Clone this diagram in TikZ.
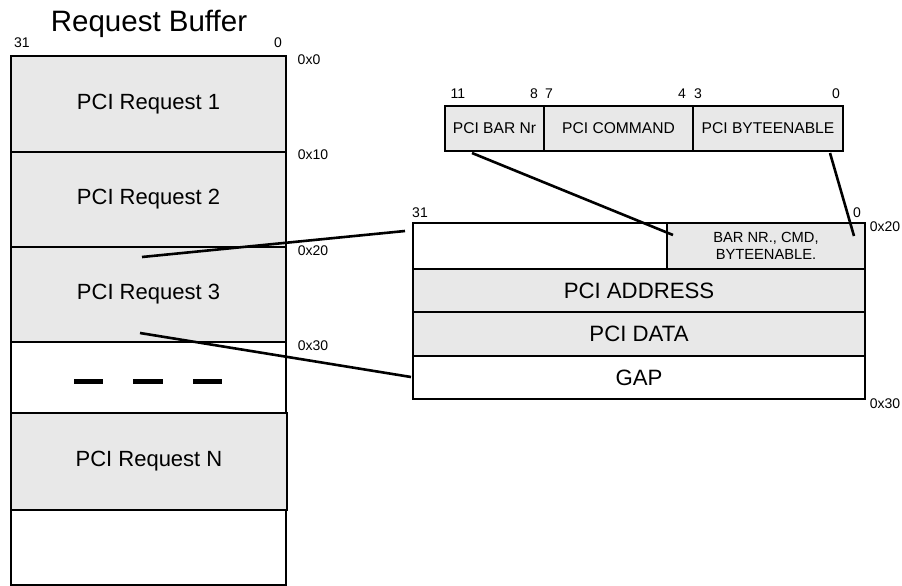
\documentclass[tikz,border=0pt]{standalone}
\usepackage{fontspec}
\setmainfont{Liberation Sans}
\usetikzlibrary{calc}
\definecolor{cellgray}{HTML}{E8E8E8}
\tikzset{
  cell/.style={draw=black, line width=2.4pt, inner sep=0pt, outer sep=0pt, anchor=north west, align=center},
  gcell/.style={cell, fill=cellgray},
  wcell/.style={cell, fill=white},
  lbl/.style={inner sep=0pt, font=\fontsize{14}{16}\selectfont},
  reqfont/.style={font=\fontsize{22}{26}\selectfont},
  bigfont/.style={font=\fontsize{22.2}{26}\selectfont},
  fieldfont/.style={font=\fontsize{15.6}{18}\selectfont},
  conn/.style={line width=2.6pt},
}
\begin{document}
\begin{tikzpicture}[x=1pt,y=-1pt]
\useasboundingbox (0,0) rectangle (902,586);
% left buffer
\node[gcell, minimum width=275pt, minimum height=96pt, reqfont] (req1) at (11,56) {PCI Request 1};
\node[gcell, minimum width=275pt, minimum height=95pt, reqfont] (req2) at (11,152) {PCI Request 2};
\node[gcell, minimum width=275pt, minimum height=95pt, reqfont] (req3) at (11,247) {PCI Request 3};
\node[wcell, minimum width=275pt, minimum height=71pt] (gapL) at (11,342) {};
\node[gcell, minimum width=276pt, minimum height=97pt, reqfont] (reqN) at (11,413) {PCI Request N};
\node[wcell, minimum width=275pt, minimum height=75pt] (lastL) at (11,510) {};
\foreach \a/\b in {74/103,133/163,193/222}
  \draw[line width=5pt] (\a,381) -- (\b,381);
\node[font=\fontsize{29.5}{32}\selectfont, inner sep=0pt] (title) at (149,24) {Request Buffer};
\node[lbl] (l31) at (22,43) {31};
\node[lbl] (l0) at (278,43) {0};
\node[lbl] (a0) at (309,60) {0x0};
\node[lbl] (a10) at (313,155) {0x10};
\node[lbl] (a20) at (313,251) {0x20};
\node[lbl] (a30) at (313,346) {0x30};
% right structure
\node[wcell, minimum width=254pt, minimum height=46pt] (emptyR) at (413,223) {};
\node[gcell, minimum width=198pt, minimum height=46pt, font=\fontsize{14.7}{17}\selectfont] (barcmd) at (667,223) {BAR NR., CMD,\\BYTEENABLE.};
\node[gcell, minimum width=452pt, minimum height=43pt, bigfont] (addr) at (413,269) {PCI ADDRESS};
\node[gcell, minimum width=452pt, minimum height=44pt, bigfont] (data) at (413,312) {PCI DATA};
\node[wcell, minimum width=452pt, minimum height=43pt, bigfont] (gapR) at (413,356) {GAP};
\node[lbl] (r31) at (420,213) {31};
\node[lbl] (r0) at (857,213) {0};
\node[lbl] (r20) at (885,227) {0x20};
\node[lbl] (r30) at (885,404) {0x30};
% top field box
\node[gcell, minimum width=99pt, minimum height=45pt, fieldfont] (barnr) at (445,106) {PCI BAR Nr};
\node[gcell, minimum width=149pt, minimum height=45pt, fieldfont] (cmd) at (544,106) {PCI COMMAND};
\node[gcell, minimum width=150pt, minimum height=45pt, fieldfont] (byte) at (693,106) {PCI BYTEENABLE};
\node[lbl] (b11) at (458,94) {11};
\node[lbl] (b8) at (534,94) {8};
\node[lbl] (b7) at (549,94) {7};
\node[lbl] (b4) at (682,94) {4};
\node[lbl] (b3) at (698,94) {3};
\node[lbl] (b0) at (836,94) {0};
% connector ends
\coordinate (c1a) at (472,153);
\coordinate (c1b) at (673,235);
\coordinate (c2a) at (830,153);
\coordinate (c2b) at (854,236);
\coordinate (c3a) at (142,257);
\coordinate (c3b) at (405,231);
\coordinate (c4a) at (140,333);
\coordinate (c4b) at (411,377);
\draw[conn] (c1a) -- (c1b);
\draw[conn] (c2a) -- (c2b);
\draw[conn] (c3a) -- (c3b);
\draw[conn] (c4a) -- (c4b);
\end{tikzpicture}
\end{document}
